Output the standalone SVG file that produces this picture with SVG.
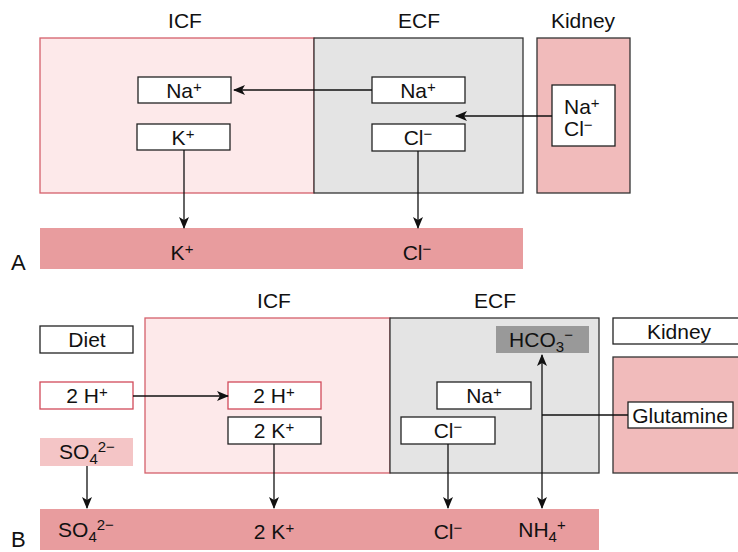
<svg xmlns="http://www.w3.org/2000/svg" width="738" height="552" viewBox="0 0 738 552">
<defs>
<marker id="ah" viewBox="0 0 12 10" refX="11" refY="5" markerWidth="12" markerHeight="10" markerUnits="userSpaceOnUse" orient="auto-start-reverse">
<path d="M0,0 L12,5 L0,10 L3,5 z" fill="#111"/>
</marker>
<style>
text{font-family:"Liberation Sans",Arial,sans-serif;font-size:21px;fill:#111}
.c{text-anchor:middle}
.s{font-size:15px}
.icf{fill:#fde9ea;stroke:#d5606b;stroke-width:1.3}
.ecf{fill:#e4e4e4;stroke:#333;stroke-width:1.3}
.kid{fill:#f1bbbb;stroke:#333;stroke-width:1.3}
.bar{fill:#e89c9e}
.wb{fill:#fff;stroke:#222;stroke-width:1.3}
.rb{fill:#fff;stroke:#d24a5a;stroke-width:1.3}
.ln{fill:none;stroke:#111;stroke-width:1.3}
.lbl{font-size:22px}
</style>
</defs>

<!-- Panel A -->
<g id="a-icf"><rect class="icf" x="40" y="38" width="274" height="155"/><text class="c" x="185" y="28">ICF</text></g>
<g id="a-ecf"><rect class="ecf" x="314" y="38" width="209" height="155"/><text class="c" x="419" y="28">ECF</text></g>
<g id="a-kidney"><rect class="kid" x="537" y="38" width="93" height="155"/><text class="c" x="583" y="28">Kidney</text></g>
<g id="a-bar"><rect class="bar" x="40" y="228" width="483" height="41"/>
<text class="c" x="182" y="260">K<tspan class="s" dy="-6">+</tspan></text>
<text class="c" x="417" y="260">Cl<tspan class="s" dy="-6">−</tspan></text></g>
<g id="a-icf-na"><rect class="wb" x="138" y="77" width="93" height="26"/><text class="c" x="184" y="98">Na<tspan class="s" dy="-6">+</tspan></text></g>
<g id="a-icf-k"><rect class="wb" x="137" y="124" width="93" height="26"/><text class="c" x="183" y="145">K<tspan class="s" dy="-6">+</tspan></text></g>
<g id="a-ecf-na"><rect class="wb" x="372" y="77" width="93" height="26"/><text class="c" x="418" y="98">Na<tspan class="s" dy="-6">+</tspan></text></g>
<g id="a-ecf-cl"><rect class="wb" x="372" y="124" width="93" height="27"/><text class="c" x="418" y="145">Cl<tspan class="s" dy="-6">−</tspan></text></g>
<g id="a-kid-nacl"><rect class="wb" x="552" y="85" width="63" height="61"/>
<text x="564" y="114">Na<tspan class="s" dy="-6">+</tspan></text>
<text x="564" y="136">Cl<tspan class="s" dy="-6">−</tspan></text></g>
<text class="lbl" x="11" y="270">A</text>

<!-- Panel B -->
<g id="b-icf"><rect class="icf" x="145" y="318" width="245" height="155"/><text class="c" x="274" y="308">ICF</text></g>
<g id="b-ecf"><rect class="ecf" x="390" y="318" width="209" height="155"/><text class="c" x="495" y="308">ECF</text></g>
<g id="b-kidney-label"><rect class="wb" x="613" y="318" width="130" height="26"/><text class="c" x="679" y="339">Kidney</text></g>
<g id="b-kidney"><rect class="kid" x="613" y="357" width="130" height="116"/></g>
<g id="b-glutamine"><rect class="wb" x="628" y="402" width="105" height="26"/><text class="c" x="680" y="423">Glutamine</text></g>
<g id="b-hco3"><rect fill="#999" x="496" y="326" width="93" height="27"/><text class="c" x="541" y="347">HCO<tspan class="s" dy="5">3</tspan><tspan class="s" dy="-12">−</tspan></text></g>
<g id="b-ecf-na"><rect class="wb" x="437" y="382" width="94" height="27"/><text class="c" x="484" y="403">Na<tspan class="s" dy="-6">+</tspan></text></g>
<g id="b-ecf-cl"><rect class="wb" x="401" y="417" width="94" height="27"/><text class="c" x="448" y="438">Cl<tspan class="s" dy="-6">−</tspan></text></g>
<g id="b-diet"><rect class="wb" x="40" y="326" width="93" height="27"/><text class="c" x="87" y="347">Diet</text></g>
<g id="b-h-diet"><rect class="rb" x="40" y="382" width="93" height="27"/><text class="c" x="87" y="403">2 H<tspan class="s" dy="-6">+</tspan></text></g>
<g id="b-so4-diet"><rect fill="#f4c5c6" x="40" y="438" width="93" height="28"/><text class="c" x="87" y="459">SO<tspan class="s" dy="5">4</tspan><tspan class="s" dy="-12">2−</tspan></text></g>
<g id="b-icf-h"><rect class="rb" x="228" y="382" width="93" height="27"/><text class="c" x="274" y="403">2 H<tspan class="s" dy="-6">+</tspan></text></g>
<g id="b-icf-k"><rect class="wb" x="228" y="417" width="93" height="27"/><text class="c" x="274" y="438">2 K<tspan class="s" dy="-6">+</tspan></text></g>
<g id="b-bar"><rect class="bar" x="40" y="509" width="559" height="41"/>
<text class="c" x="86" y="537">SO<tspan class="s" dy="5">4</tspan><tspan class="s" dy="-12">2−</tspan></text>
<text class="c" x="274" y="539">2 K<tspan class="s" dy="-6">+</tspan></text>
<text class="c" x="448" y="539">Cl<tspan class="s" dy="-6">−</tspan></text>
<text class="c" x="542" y="537">NH<tspan class="s" dy="5">4</tspan><tspan class="s" dy="-12">+</tspan></text></g>
<text class="lbl" x="11" y="547">B</text>

<g id="connectors">
<line class="ln" x1="372" y1="90" x2="234" y2="90" marker-end="url(#ah)"/>
<line class="ln" x1="552" y1="116" x2="456" y2="116" marker-end="url(#ah)"/>
<line class="ln" x1="184" y1="150" x2="184" y2="228" marker-end="url(#ah)"/>
<line class="ln" x1="418" y1="151" x2="418" y2="228" marker-end="url(#ah)"/>
<line class="ln" x1="133" y1="396" x2="228" y2="396" marker-end="url(#ah)"/>
<line class="ln" x1="87" y1="466" x2="87" y2="508" marker-end="url(#ah)"/>
<line class="ln" x1="274" y1="444" x2="274" y2="508" marker-end="url(#ah)"/>
<line class="ln" x1="448" y1="444" x2="448" y2="508" marker-end="url(#ah)"/>
<line class="ln" x1="542" y1="355" x2="542" y2="508" marker-start="url(#ah)" marker-end="url(#ah)"/>
<line class="ln" x1="542" y1="415" x2="628" y2="415"/>
</g>
</svg>
